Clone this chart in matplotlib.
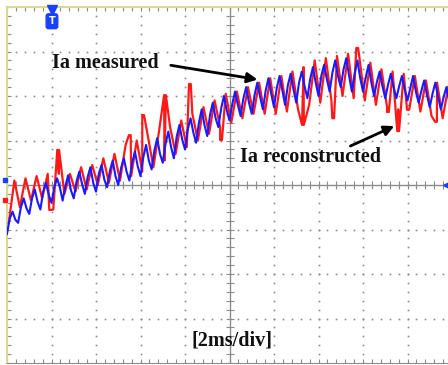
import numpy as np
import matplotlib
matplotlib.use('Agg')
import matplotlib.pyplot as plt

# oscilloscope capture: Ia measured (blue) vs Ia reconstructed (red)
# x in divisions (2 ms/div), y in divisions from screen centre

t_blue = np.arange(161) * 0.0625
ia_measured = [
    -1.10, -0.75, -0.60, -0.78, -0.85, -0.50, -0.30, -0.52, -0.65, -0.30,
    -0.10, -0.38, -0.55, -0.15, 0.05, -0.22, -0.40, -0.05, 0.15, -0.05,
    -0.35, -0.02, 0.22, -0.12, -0.30, 0.08, 0.30, 0.02, -0.20, 0.18,
    0.40, 0.05, -0.15, 0.25, 0.45, 0.12, -0.05, 0.32, 0.55, 0.20,
    0.00, 0.38, 0.60, 0.30, 0.10, 0.50, 0.75, 0.42, 0.20, 0.62,
    0.90, 0.55, 0.35, 0.78, 1.05, 0.70, 0.50, 0.92, 1.20, 0.85,
    0.60, 1.08, 1.35, 1.02, 0.80, 1.25, 1.50, 1.18, 0.95, 1.40,
    1.70, 1.35, 1.10, 1.58, 1.85, 1.50, 1.30, 1.72, 2.00, 1.68,
    1.45, 1.82, 2.10, 1.80, 1.55, 1.95, 2.20, 1.85, 1.60, 2.02,
    2.30, 1.98, 1.70, 2.12, 2.40, 2.05, 1.75, 2.18, 2.45, 2.12,
    1.80, 2.25, 2.50, 2.15, 1.85, 2.30, 2.55, 2.22, 1.95, 2.38,
    2.65, 2.30, 2.00, 2.45, 2.70, 2.38, 2.10, 2.52, 2.80, 2.45,
    2.20, 2.60, 2.85, 2.45, 2.10, 2.50, 2.80, 2.40, 2.10, 2.42,
    2.70, 2.30, 2.00, 2.32, 2.55, 2.22, 1.95, 2.25, 2.50, 2.20,
    1.95, 2.22, 2.45, 2.15, 1.90, 2.18, 2.45, 2.10, 1.85, 2.12,
    2.35, 2.02, 1.75, 2.05, 2.30, 1.98, 1.70, 1.98, 2.20, 1.88,
    1.60,
]

t_red = 0.04 + np.arange(80) * 0.125
ia_reconstructed = [
    -0.85, 0.10, -0.50, 0.15, -0.35, 0.20, -0.30, 0.25, -0.55, 0.25,
    -0.20, 0.25, -0.15, 0.40, -0.10, 0.45, 0.00, 0.60, 0.05, 0.70,
    0.10, 0.90, 0.20, 1.00, 0.30, 1.10, 0.40, 1.20, 0.55, 1.30,
    0.70, 1.45, 0.85, 1.60, 1.00, 1.75, 1.15, 1.90, 1.30, 2.05,
    1.40, 2.10, 1.50, 2.20, 1.60, 2.30, 1.60, 2.40, 1.60, 2.45,
    1.65, 2.55, 1.70, 2.65, 1.80, 2.80, 1.85, 2.85, 1.90, 2.90,
    2.00, 2.95, 1.95, 2.90, 1.90, 2.75, 1.80, 2.60, 1.75, 2.55,
    1.70, 2.50, 1.70, 2.45, 1.65, 2.35, 1.55, 2.30, 1.50, 2.20,
]

# narrow glitches of the reconstructed current
spike_t = [0.97, 1.15, 2.76, 3.06, 3.55, 4.11, 4.81, 6.65, 7.33, 7.87,
           8.56, 8.79, 9.01, 9.64]
spike_y = [-0.56, 0.79, 1.12, 1.57, 2.02, 2.27, 1.01, 1.35, 1.50, 3.08,
           1.64, 1.21, 1.69, 1.42]

# merge glitches into the red trace
rt = list(t_red)
ry = list(ia_reconstructed)
for st, sy in zip(spike_t, spike_y):
    rt += [st - 0.02, st + 0.02]
    ry += [sy, sy]
order = np.argsort(rt)
rt = np.array(rt)[order]
ry = np.array(ry)[order]

fig = plt.figure(figsize=(4.48, 3.65), dpi=100)
ax = fig.add_axes([7 / 448, 2 / 365, 445 / 448, 356 / 365])
ax.set_xlim(0, 10)
ax.set_ylim(-4, 4)

# dotted graticule
minor = np.arange(0, 10.001, 0.2)
minor_y = np.arange(-4, 4.001, 0.2)
for gx in range(1, 10):
    if gx != 5:
        ax.plot(np.full(len(minor_y), gx), minor_y, ls='none', marker='s',
                ms=1.2, mew=0, color='#8a8a8a', zorder=1)
for gy in range(-3, 4):
    if gy != 0:
        ax.plot(minor, np.full(len(minor), gy), ls='none', marker='s',
                ms=1.2, mew=0, color='#8a8a8a', zorder=1)

# centre axes with tick marks
ax.axhline(0, color='#8c8c8c', lw=1.0, zorder=1)
ax.axvline(5, color='#8c8c8c', lw=1.0, zorder=1)
ax.plot(minor, np.zeros(len(minor)), ls='none', marker='|', ms=6,
        color='#8c8c8c', mew=0.8, zorder=1)
ax.plot(np.full(len(minor_y), 5), minor_y, ls='none', marker='_', ms=6,
        color='#8c8c8c', mew=0.8, zorder=1)

ax.set_xticks(range(0, 11))
ax.set_yticks(range(-4, 5))
ax.set_xticks(minor, minor=True)
ax.set_yticks(minor_y, minor=True)
ax.tick_params(which='both', direction='in', top=True, right=True,
               labelbottom=False, labelleft=False, length=3,
               color='#8c8c8c', width=0.8)
for side in ['left', 'top']:
    ax.spines[side].set_color('#d8d890')
    ax.spines[side].set_linewidth(1.5)
for side in ['bottom', 'right']:
    ax.spines[side].set_color('#8c8c8c')

ax.plot(rt, ry, color='#ff1a1a', lw=1.6, zorder=3)
ax.plot(t_blue, ia_measured, color='#1a1aff', lw=1.5, zorder=4)

# trigger and channel markers
ax.plot([1.01], [3.93], marker='v', ms=7, color='#1a40ff', clip_on=False, zorder=6)
ax.text(1.01, 3.68, 'T', ha='center', va='center', color='white',
        fontsize=7, fontweight='bold', zorder=6,
        bbox=dict(boxstyle='round,pad=0.25', fc='#1a40ff', ec='#1a40ff'))
ax.plot([9.9], [0], marker='<', ms=7, color='#1a40ff', clip_on=False, zorder=6)
ax.plot([-0.04], [0.11], marker='s', ms=2.5, color='#1a40ff', clip_on=False, zorder=6)
ax.plot([-0.04], [-0.34], marker='s', ms=2.5, color='#ff1a1a', clip_on=False, zorder=6)

font = dict(family='Liberation Serif', fontweight='bold', fontsize=14.5, color='#111111')
ax.text(1.01, 2.74, 'Ia measured', ha='left', va='center', zorder=7, **font)
ax.annotate('', xy=(5.69, 2.36), xytext=(3.62, 2.70), zorder=7,
            arrowprops=dict(arrowstyle='-|>,head_length=0.6,head_width=0.3',
                            color='black', lw=2))
ax.text(5.24, 0.63, 'Ia reconstructed', ha='left', va='center', zorder=7, **font)
ax.annotate('', xy=(8.76, 1.35), xytext=(7.66, 0.85), zorder=7,
            arrowprops=dict(arrowstyle='-|>,head_length=0.6,head_width=0.3',
                            color='black', lw=2))
ax.text(5.06, -3.5, '[2ms/div]', ha='center', va='center', zorder=7, **font)

fig.savefig('out.png', dpi=100)
